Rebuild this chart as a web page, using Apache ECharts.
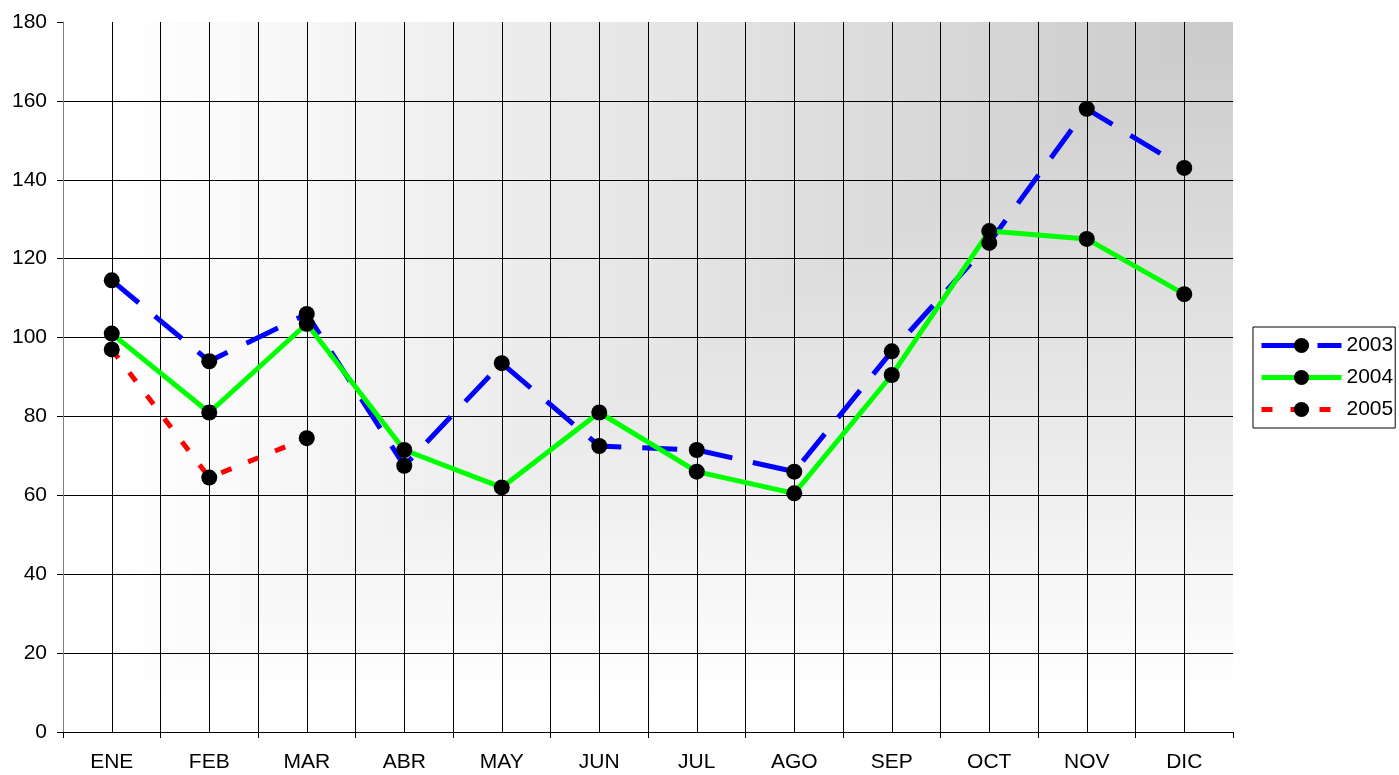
<!DOCTYPE html>
<html><head><meta charset="utf-8">
<script src="https://cdn.jsdelivr.net/npm/echarts@6/dist/echarts.min.js"></script>
<style>html,body{margin:0;padding:0;background:#fff}#c{width:1399px;height:775px}</style>
</head><body><div id="c"></div>
<script>
const months = ['ENE','FEB','MAR','ABR','MAY','JUN','JUL','AGO','SEP','OCT','NOV','DIC'];
const s2003 = [114.5, 94, 106, 67.5, 93.5, 72.5, 71.5, 66, 96.5, 124, 158, 143];
const s2004 = [101, 81, 103.5, 71.5, 62, 81, 66, 60.5, 90.5, 127, 125, 111];
const s2005 = [97, 64.5, 74.5];
const seriesNames = ['2003','2004','2005'];
const yMin = 0, yMax = 180, yStep = 20;

const W = 1399, H = 775;
const G = {left: 63, top: 22, right: 166, bottom: 43};

function makeBg() {
  const cv = document.createElement('canvas');
  cv.width = W; cv.height = H;
  const ctx = cv.getContext('2d');
  const img = ctx.createImageData(W, H);
  const x0 = G.left, x1 = W - G.right, y0 = G.top, y1 = H - G.bottom;
  for (let y = 0; y < H; y++) {
    for (let x = 0; x < W; x++) {
      let c = 255;
      if (x >= x0 && x <= x1 && y >= y0 && y <= y1) {
        const u = (x - x0) / (x1 - x0), v = (y - y0) / (y1 - y0);
        const t = Math.max(1 - u, v);
        c = Math.round(202 + 53 * Math.min(1, t * 1.05));
      }
      const i = (y * W + x) * 4;
      img.data[i] = c; img.data[i+1] = c; img.data[i+2] = c; img.data[i+3] = 255;
    }
  }
  ctx.putImageData(img, 0, 0);
  return cv;
}

const font = 'Liberation Sans, Arial, sans-serif';
const FS = 21;
const chart = echarts.init(document.getElementById('c'), null, {renderer: 'canvas'});
const mk = (name, data, color, type, width) => ({
  name, type: 'line', data, xAxisIndex: 0,
  symbol: 'circle', symbolSize: 16,
  itemStyle: {color: '#000'},
  lineStyle: {color, width, type},
  emphasis: {disabled: true},
  animation: false
});
chart.setOption({
  animation: false,
  backgroundColor: '#fff',
  grid: {left: G.left, top: G.top, right: G.right, bottom: G.bottom, show: true, borderWidth: 0,
         backgroundColor: {image: makeBg(), repeat: 'no-repeat'}},
  legend: {
    orient: 'vertical', left: 1253, top: 327,
    itemWidth: 80, itemHeight: 19, itemGap: 11,
    padding: [8, 2, 8, 6],
    borderColor: '#000', borderWidth: 1, backgroundColor: '#fff',
    lineStyle: {width: 5},
    textStyle: {fontSize: FS, color: '#000', fontFamily: font},
    data: seriesNames
  },
  xAxis: [
    {type: 'category', data: months, boundaryGap: true,
     axisLine: {lineStyle: {color: '#000', width: 1}},
     axisTick: {show: true, length: 6, alignWithLabel: false, lineStyle: {color: '#000'}},
     axisLabel: {fontSize: FS, color: '#000', margin: 20, fontFamily: font},
     splitLine: {show: false}},
    {type: 'value', min: 0, max: 24, interval: 1, position: 'bottom',
     axisLine: {show: false}, axisTick: {show: false}, axisLabel: {show: false},
     splitLine: {show: true, showMinLine: false, showMaxLine: false, lineStyle: {color: '#000', width: 1}}}
  ],
  yAxis: {type: 'value', min: yMin, max: yMax, interval: yStep,
    axisLine: {show: true, lineStyle: {color: '#808080', width: 1}},
    axisTick: {show: true, length: 6, lineStyle: {color: '#000'}},
    axisLabel: {fontSize: FS, color: '#000', margin: 16, fontFamily: font},
    splitLine: {show: true, showMinLine: false, showMaxLine: false, lineStyle: {color: '#000', width: 1}}},
  series: [
    mk(seriesNames[0], s2003, '#0000ff', [35, 21], 5),
    mk(seriesNames[1], s2004, '#00ff00', 'solid', 5),
    mk(seriesNames[2], s2005, '#ff0000', [11, 18], 5)
  ]
});
</script></body></html>
